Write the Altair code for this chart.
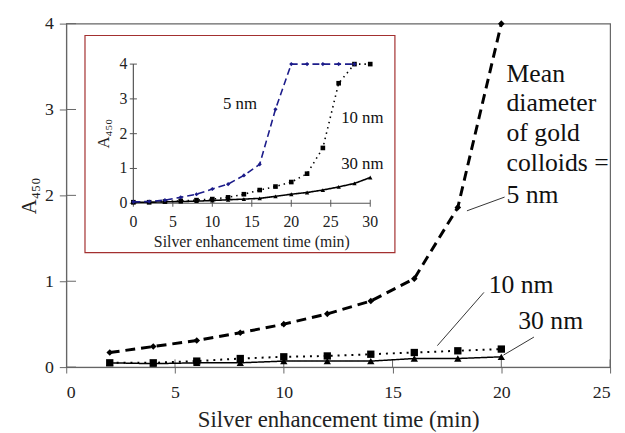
import altair as alt
import pandas as pd

FONT = "Liberation Serif"

# ---- main chart data ----
main_x = [2, 4, 6, 8, 10, 12, 14, 16, 18, 20]
main_5nm = [0.17, 0.24, 0.31, 0.40, 0.50, 0.62, 0.77, 1.03, 1.86, 4.00]
main_10nm = [0.05, 0.05, 0.07, 0.10, 0.12, 0.13, 0.15, 0.17, 0.19, 0.21]
main_30nm = [0.05, 0.04, 0.05, 0.05, 0.07, 0.07, 0.07, 0.10, 0.10, 0.12]

# ---- inset data ----
inset_x = [0, 2, 4, 6, 8, 10, 12, 14, 16, 18, 20, 22, 24, 26, 28, 30]
inset_5nm = [0.04, 0.05, 0.09, 0.17, 0.26, 0.41, 0.55, 0.80, 1.12, 2.70, 4.0, 4.0, 4.0, 4.0, 4.0, None]
inset_10nm = [0.03, 0.03, 0.05, 0.07, 0.09, 0.12, 0.17, 0.26, 0.38, 0.48, 0.61, 0.85, 1.59, 3.45, 4.0, 4.0]
inset_30nm = [0.03, 0.03, 0.04, 0.05, 0.06, 0.08, 0.10, 0.12, 0.14, 0.20, 0.26, 0.31, 0.38, 0.47, 0.57, 0.74]

main_xticks = [0, 5, 10, 15, 20, 25]
main_yticks = [0, 1, 2, 3, 4]
inset_xticks = [0, 5, 10, 15, 20, 25, 30]
inset_yticks = [0, 1, 2, 3, 4]

main_notes = ["Mean", "diameter", "of gold", "colloids =", "5 nm"]
main_notes_y = [3.41, 3.07, 2.72, 2.38, 2.00]
side_labels = ["10 nm", "30 nm"]
side_labels_x = [19.42, 20.78]
side_labels_y = [0.96, 0.54]
inset_labels = ["5 nm", "10 nm", "30 nm"]
inset_labels_x = [13.5, 29.0, 29.0]
inset_labels_y = [2.84, 2.44, 1.13]


def long_df(xs, series):
    rows = []
    for name, ys in series.items():
        for x, y in zip(xs, ys):
            if y is not None:
                rows.append({"x": x, "y": y, "s": name})
    return pd.DataFrame(rows)


mdf = long_df(main_x, {"5nm": main_5nm, "10nm": main_10nm, "30nm": main_30nm})
idf = long_df(inset_x, {"5nm": inset_5nm, "10nm": inset_10nm, "30nm": inset_30nm})

# ---------------- main ----------------
mx = alt.X("x:Q", scale=alt.Scale(domain=[0, 25], nice=False),
           axis=alt.Axis(values=main_xticks, format="d", title="Silver enhancement time (min)",
                         grid=False, domainColor="#666", tickColor="#666", tickSize=6,
                         labelFont=FONT, labelFontSize=18, labelColor="#222",
                         titleFont=FONT, titleFontSize=23, titleFontWeight="normal",
                         titleColor="#222", labelPadding=11, titlePadding=7))
my = alt.Y("y:Q", scale=alt.Scale(domain=[0, 4], nice=False),
           axis=alt.Axis(values=main_yticks, format="d", title="A₄₅₀", grid=False,
                         domainColor="#666", tickColor="#666", tickSize=7,
                         labelFont=FONT, labelFontSize=18, labelColor="#222",
                         titleFont=FONT, titleFontSize=21, titleFontWeight="normal",
                         titleColor="#222", labelPadding=6, titlePadding=5))


def main_series(name, dash, width, shape, size):
    d = mdf[mdf.s == name]
    base = alt.Chart(d)
    ln = base.mark_line(color="black", strokeDash=dash, strokeWidth=width).encode(x=mx, y=my)
    pt = base.mark_point(shape=shape, filled=True, color="black", size=size, opacity=1).encode(x=mx, y=my)
    return ln + pt


m5 = main_series("5nm", [10, 6], 3, "diamond", 45)
m10 = main_series("10nm", [2, 5], 2, "square", 55)
m30 = main_series("30nm", [1, 0], 1.5, "triangle-up", 55)

# inward tick parts
mxt = alt.Chart(pd.DataFrame({"x": main_xticks[1:]})).mark_rule(color="#666").encode(
    x="x:Q", y=alt.datum(0), y2=alt.datum(0.09))
myt = alt.Chart(pd.DataFrame({"y": main_yticks})).mark_rule(color="#666").encode(
    y="y:Q", x=alt.datum(0), x2=alt.datum(0.45))

notes_df = pd.DataFrame({"t": main_notes, "x": [20.24] * 5, "y": main_notes_y})
notes = alt.Chart(notes_df).mark_text(align="left", baseline="middle", font=FONT,
                                      fontSize=26, color="#111").encode(x="x:Q", y="y:Q", text="t:N")
lab_df = pd.DataFrame({"t": side_labels, "x": side_labels_x, "y": side_labels_y})
labs = alt.Chart(lab_df).mark_text(align="left", baseline="middle", font=FONT,
                                   fontSize=26, color="#111").encode(x="x:Q", y="y:Q", text="t:N")
lead_df = pd.DataFrame({"x": [18.42, 17.06, 20.1], "y": [1.82, 0.25, 0.14],
                        "x2": [20.15, 19.2, 21.5], "y2": [1.98, 0.87, 0.35]})
leads = alt.Chart(lead_df).mark_rule(color="#333", strokeWidth=1).encode(
    x="x:Q", y="y:Q", x2="x2:Q", y2="y2:Q")

inset_box = alt.Chart(pd.DataFrame({"a": [0]})).mark_rect(
    fill="white", stroke="#a33030", strokeWidth=1.2).encode(
    x=alt.value(19), x2=alt.value(333), y=alt.value(12), y2=alt.value(232))

main = alt.layer(mxt, myt, m30, m10, m5, leads, notes, labs, inset_box)

# ---------------- inset (own scales, hand-drawn axes) ----------------
ixs = alt.Scale(domain=[0, 30], nice=False, range=[68, 308])
iys = alt.Scale(domain=[0, 4], nice=False, range=[182, 41])
AX = "#555"


def IX(f):
    return alt.X(f, scale=ixs, axis=None)


def IY(f):
    return alt.Y(f, scale=iys, axis=None)


def inset_series(name, color, dash, width, shape, size):
    d = idf[idf.s == name]
    base = alt.Chart(d)
    ln = base.mark_line(color=color, strokeDash=dash, strokeWidth=width).encode(x=IX("x:Q"), y=IY("y:Q"))
    pt = base.mark_point(shape=shape, filled=True, color=color, size=size, opacity=1).encode(
        x=IX("x:Q"), y=IY("y:Q"))
    return ln + pt


i30 = inset_series("30nm", "black", [1, 0], 1.6, "triangle-up", 20)
i10 = inset_series("10nm", "black", [1.5, 4], 1.6, "square", 22)
i5 = inset_series("5nm", "#1c1c8a", [7, 4], 1.6, "diamond", 18)

dom_df = pd.DataFrame({"x": [0, 0], "x2": [30, 0], "y": [0, 0], "y2": [0, 4]})
idom = alt.Chart(dom_df).mark_rule(color=AX, strokeWidth=1.2).encode(
    x=IX("x:Q"), x2="x2:Q", y=IY("y:Q"), y2="y2:Q")

ixt_df = pd.DataFrame({"x": inset_xticks, "lo": [-0.1] * 7, "hi": [0.1] * 7, "y": [0] * 7})
ixt = alt.Chart(ixt_df).mark_rule(color=AX).encode(x=IX("x:Q"), y=IY("lo:Q"), y2="hi:Q")
ixl = alt.Chart(ixt_df).mark_text(font=FONT, fontSize=16, color="#222", baseline="middle",
                                  dy=19).encode(x=IX("x:Q"), y=IY("y:Q"),
                                                text=alt.Text("x:Q", format="d"))

iyt_df = pd.DataFrame({"y": inset_yticks, "lo": [-0.45] * 5, "hi": [0.45] * 5, "x": [0] * 5})
iyt = alt.Chart(iyt_df).mark_rule(color=AX).encode(y=IY("y:Q"), x=IX("lo:Q"), x2="hi:Q")
iyl = alt.Chart(iyt_df).mark_text(font=FONT, fontSize=16, color="#222", baseline="middle",
                                  align="right", dx=-6).encode(y=IY("y:Q"), x=IX("x:Q"),
                                                               text=alt.Text("y:Q", format="d"))

ixtitle = alt.Chart(pd.DataFrame({"t": ["Silver enhancement time (min)"], "x": [15], "y": [0]})).mark_text(
    font=FONT, fontSize=16, color="#222", baseline="middle", dy=39).encode(
    x=IX("x:Q"), y=IY("y:Q"), text="t:N")
iytitle = alt.Chart(pd.DataFrame({"t": ["A₄₅₀"], "x": [0], "y": [2]})).mark_text(
    font=FONT, fontSize=17, color="#222", baseline="middle", angle=270, dy=-30).encode(
    x=IX("x:Q"), y=IY("y:Q"), text="t:N")

ilab_df = pd.DataFrame({"t": inset_labels, "x": inset_labels_x, "y": inset_labels_y})
ilabs = alt.Chart(ilab_df).mark_text(font=FONT, fontSize=17, color="#111",
                                     baseline="middle").encode(x=IX("x:Q"), y=IY("y:Q"), text="t:N")

inset = alt.layer(idom, ixt, iyt, ixl, iyl, ixtitle, iytitle, i30, i10, i5, ilabs)

chart = alt.layer(main, inset).resolve_scale(x="independent", y="independent").properties(
    width=551, height=348,
    autosize=alt.AutoSizeParams(type="none"),
    padding={"left": 59, "top": 13, "right": 7, "bottom": 70},
    background="white",
).configure_view(stroke="#666", strokeWidth=1.2)

chart.save("out.html", embed_options={"renderer": "svg", "actions": False})
